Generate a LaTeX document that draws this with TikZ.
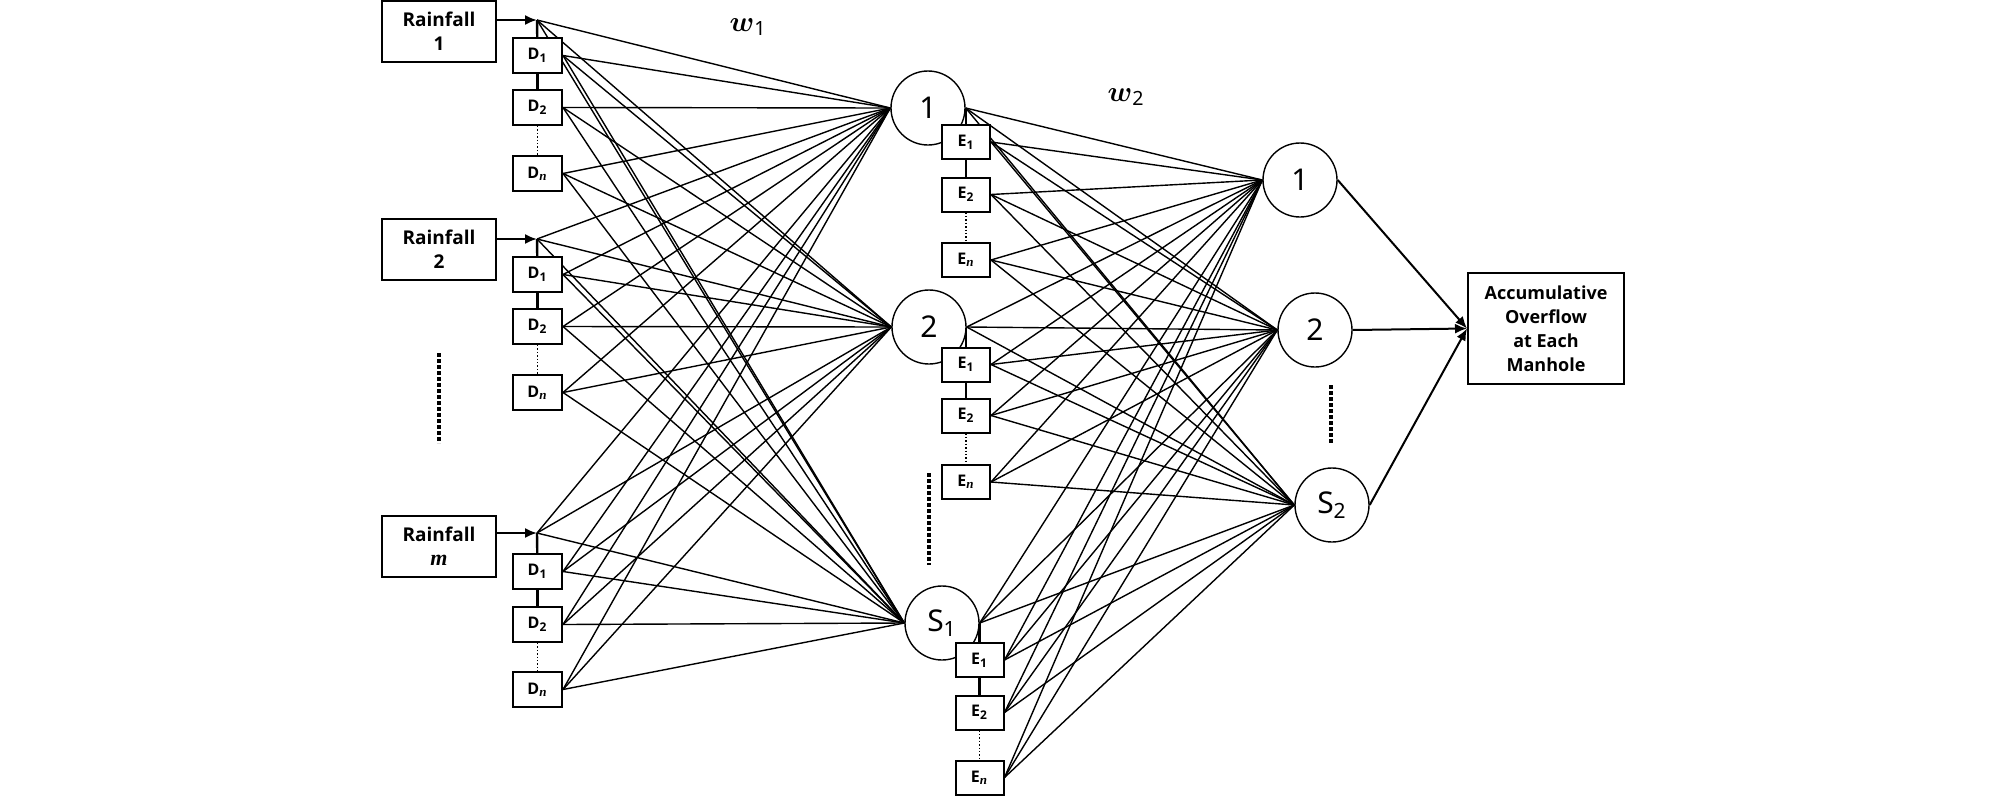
\documentclass[tikz,border=0pt]{standalone}
\usepackage{fontspec}
\setmainfont{Open Sans}
\newfontfamily\circfont{Noto Sans}
\newfontfamily\serifn{Liberation Serif}
\usepackage{bm}
\usetikzlibrary{arrows.meta,backgrounds}
\newcommand{\subn}{\textsubscript{\serifn\itshape\fontsize{6.5}{6.5}\selectfont n}}
\begin{document}
\begin{tikzpicture}[x=0.5pt,y=-0.5pt,
 rain/.style={draw,line width=1pt,fill=white,minimum width=57pt,minimum height=30.5pt,inner sep=0pt,font=\fontsize{9.5}{12}\selectfont\bfseries,align=center},
 dbox/.style={draw,line width=1pt,fill=white,minimum width=24.5pt,minimum height=17.5pt,inner sep=0pt,font=\fontsize{8}{8}\selectfont\bfseries},
 ebox/.style={dbox,minimum width=24pt,minimum height=17pt},
 neuron/.style={draw,circle,line width=0.7pt,fill=white,minimum size=37pt,inner sep=0pt,font=\circfont\fontsize{15}{16}\selectfont},
 outbox/.style={draw,line width=1pt,fill=white,minimum width=78pt,minimum height=55.5pt,inner sep=0pt,align=center,font=\fontsize{9}{12}\selectfont\bfseries},
 conn/.style={line width=0.7pt},
 link/.style={line width=1.2pt},
 fine/.style={line width=0.7pt,densely dotted},
 gap/.style={line width=2pt,dash pattern=on 2pt off 1pt},
 arr/.style={line width=1pt,-{Latex[length=6pt,width=5pt]}}
]
\useasboundingbox (0,0) rectangle (2008,798);

% input boxes
\node[rain] (r1) at (439,31) {Rainfall\\1};
\node[rain] (r2) at (439,249.5) {Rainfall\\2};
\node[rain] (rm) at (439,546.5) {Rainfall\\{\serifn\bfseries\itshape\fontsize{11}{12}\selectfont m}};

\coordinate (t1) at (537,20);
\coordinate (t2) at (537,239);
\coordinate (tm) at (537,533);

\node[dbox] (d11) at (537.5,55.5) {D\textsubscript{1}};
\node[dbox] (d12) at (537.5,107.5) {D\textsubscript{2}};
\node[dbox] (d1n) at (537.5,173.5) {D\subn};
\node[dbox] (d21) at (537.5,274.5) {D\textsubscript{1}};
\node[dbox] (d22) at (537.5,326.5) {D\textsubscript{2}};
\node[dbox] (d2n) at (537.5,392.5) {D\subn};
\node[dbox] (dm1) at (537.5,571.5) {D\textsubscript{1}};
\node[dbox] (dm2) at (537.5,624.5) {D\textsubscript{2}};
\node[dbox] (dmn) at (537.5,689.5) {D\subn};

% hidden layer
\node[neuron] (h1) at (928,108) {1};
\node[neuron] (h2) at (929,327) {2};
\node[neuron] (hs) at (942,623) {S\textsubscript{1}};

\node[ebox] (e11) at (966,142) {E\textsubscript{1}};
\node[ebox] (e12) at (966,194.5) {E\textsubscript{2}};
\node[ebox] (e1n) at (966,260) {E\subn};
\node[ebox] (e21) at (966,364.5) {E\textsubscript{1}};
\node[ebox] (e22) at (966,415.5) {E\textsubscript{2}};
\node[ebox] (e2n) at (966,482) {E\subn};
\node[ebox] (es1) at (979.5,660) {E\textsubscript{1}};
\node[ebox] (es2) at (979.5,712.5) {E\textsubscript{2}};
\node[ebox] (esn) at (979.5,777.5) {E\subn};

% output layer
\node[neuron] (o1) at (1300,180) {1};
\node[neuron] (o2) at (1315,330) {2};
\node[neuron] (os) at (1332,505) {S\textsubscript{2}};
\node[outbox] (out) at (1546,328.5) {Accumulative\\Overflow\\at Each\\Manhole};

% weight labels
\node[font=\fontsize{14}{14}\selectfont] (w1) at (748,27) {$\bm{w}$\textsubscript{\circfont 1}};
\node[font=\fontsize{14}{14}\selectfont] (w2) at (1126,97) {$\bm{w}$\textsubscript{\circfont 2}};

\begin{scope}[on background layer]
 \foreach \s in {t1,t2,tm}
  \foreach \h in {h1,h2,hs}
   \draw[conn] (\s) -- (\h.west);
 \foreach \s in {d11,d12,d1n,d21,d22,d2n,dm1,dm2,dmn}
  \foreach \h in {h1,h2,hs}
   \draw[conn] (\s.east) -- (\h.west);
 \foreach \s in {h1,h2,hs,e11,e12,e1n,e21,e22,e2n,es1,es2,esn}
  \foreach \o in {o1,o2,os}
   \draw[conn] (\s.east) -- (\o.west);
 % tap chains
 \draw[link] (t1) -- (d11); \draw[link] (d11) -- (d12); \draw[fine] (d12) -- (d1n);
 \draw[link] (t2) -- (d21); \draw[link] (d21) -- (d22); \draw[fine] (d22) -- (d2n);
 \draw[link] (tm) -- (dm1); \draw[link] (dm1) -- (dm2); \draw[fine] (dm2) -- (dmn);
 \draw[link] (h1.east -| e11) -- (e11); \draw[link] (e11) -- (e12); \draw[fine] (e12) -- (e1n);
 \draw[link] (h2.east -| e21) -- (e21); \draw[link] (e21) -- (e22); \draw[fine] (e22) -- (e2n);
 \draw[link] (hs.east -| es1) -- (es1); \draw[link] (es1) -- (es2); \draw[fine] (es2) -- (esn);
\end{scope}

% input arrows
\draw[arr] (r1.east |- t1) -- (t1);
\draw[arr] (r2.east |- t2) -- (t2);
\draw[arr] (rm.east |- tm) -- (tm);

% output arrows
\draw[arr] (o1.east) -- (out.west);
\draw[arr] (o2.east) -- (out.west);
\draw[arr] (os.east) -- (out.west);

% ellipsis marks
\draw[gap] (439,353) -- (439,443);
\draw[gap] (929,473) -- (929,565);
\draw[gap] (1331,385) -- (1331,445);
\end{tikzpicture}
\end{document}
